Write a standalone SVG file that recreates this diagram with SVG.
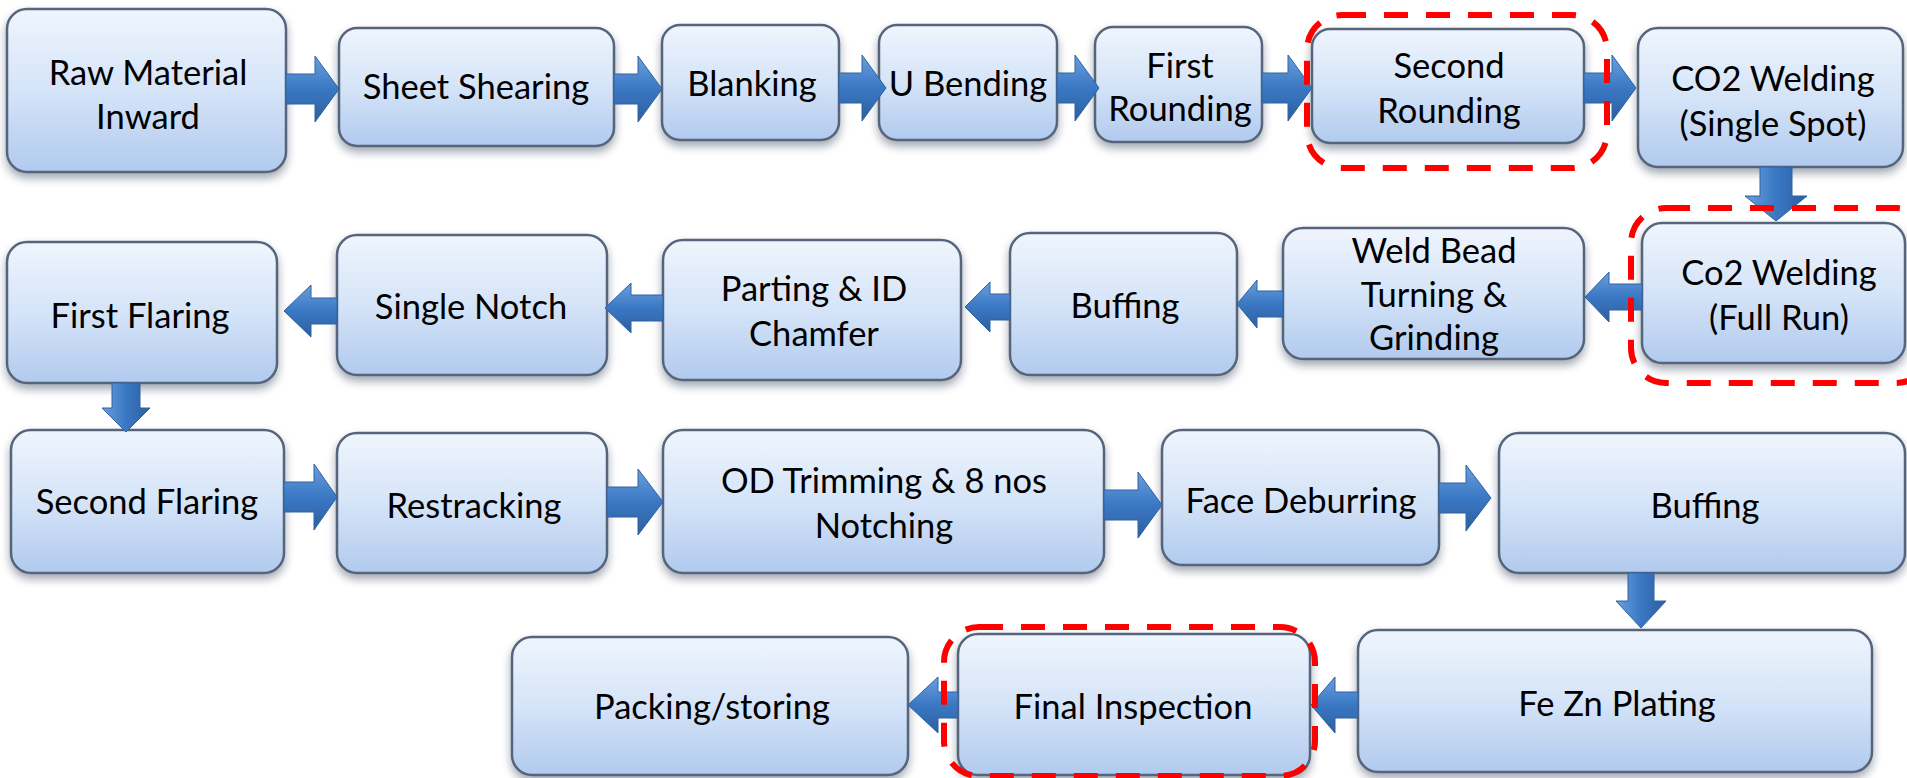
<svg xmlns="http://www.w3.org/2000/svg" width="1907" height="778" viewBox="0 0 1907 778">
<defs>
<linearGradient id="boxg" x1="0" y1="0" x2="0" y2="1">
<stop offset="0" stop-color="#eff5fd"/>
<stop offset="0.5" stop-color="#d5e4f8"/>
<stop offset="1" stop-color="#b1caee"/>
</linearGradient>
<linearGradient id="arrh" x1="0" y1="0" x2="0" y2="1">
<stop offset="0" stop-color="#6a9fdc"/>
<stop offset="0.5" stop-color="#3a78c4"/>
<stop offset="1" stop-color="#2c5f9e"/>
</linearGradient>
<linearGradient id="arrv" x1="0" y1="0" x2="1" y2="0">
<stop offset="0" stop-color="#6a9fdc"/>
<stop offset="0.5" stop-color="#3a78c4"/>
<stop offset="1" stop-color="#2c5f9e"/>
</linearGradient>
<filter id="sh" x="-10%" y="-10%" width="120%" height="130%">
<feDropShadow dx="0" dy="5" stdDeviation="4" flood-color="#1c2a40" flood-opacity="0.4"/>
</filter>
</defs>
<style>
.box{fill:url(#boxg);stroke:#56657c;stroke-width:2.5;filter:url(#sh)}
.t{font-family:Lato,"Open Sans","Liberation Sans",sans-serif;font-size:34.5px;fill:#000;text-anchor:middle}
.ah{fill:url(#arrh);stroke:#2e62a2;stroke-width:1}
.av{fill:url(#arrv);stroke:#2e62a2;stroke-width:1}
.hl{fill:none;stroke:#ff0000;stroke-width:6;stroke-dasharray:24 18}
</style>
<rect width="1907" height="778" fill="#ffffff"/>

<g id="node1"><rect class="box" x="7" y="9" width="279" height="163" rx="20"/><text class="t" x="148" y="85">Raw Material</text><text class="t" x="148" y="129">Inward</text></g>
<g id="node2"><rect class="box" x="339" y="28" width="275" height="118" rx="18"/><text class="t" x="476" y="99">Sheet Shearing</text></g>
<g id="node3"><rect class="box" x="662" y="25" width="177" height="115" rx="18"/><text class="t" x="752" y="96">Blanking</text></g>
<g id="node4"><rect class="box" x="879" y="25" width="178" height="115" rx="18"/><text class="t" x="968" y="96">U Bending</text></g>
<g id="node5"><rect class="box" x="1095" y="27" width="167" height="115" rx="18"/><text class="t" x="1180" y="78">First</text><text class="t" x="1180" y="121">Rounding</text></g>
<g id="node6"><rect class="box" x="1312" y="29" width="272" height="114" rx="18"/><text class="t" x="1449" y="78">Second</text><text class="t" x="1449" y="123">Rounding</text></g>
<g id="node7"><rect class="box" x="1638" y="28" width="265" height="139" rx="20"/><text class="t" x="1773" y="91">CO2 Welding</text><text class="t" x="1773" y="136">(Single Spot)</text></g>
<g id="node8"><rect class="box" x="1642" y="223" width="263" height="140" rx="20"/><text class="t" x="1779" y="285">Co2 Welding</text><text class="t" x="1779" y="330">(Full Run)</text></g>
<g id="node9"><rect class="box" x="1283" y="228" width="301" height="131" rx="20"/><text class="t" x="1434" y="263">Weld Bead</text><text class="t" x="1434" y="307">Turning &amp;</text><text class="t" x="1434" y="350">Grinding</text></g>
<g id="node10"><rect class="box" x="1010" y="233" width="227" height="142" rx="20"/><text class="t" x="1125" y="318">Buffing</text></g>
<g id="node11"><rect class="box" x="663" y="240" width="298" height="140" rx="20"/><text class="t" x="814" y="301">Parting &amp; ID</text><text class="t" x="814" y="346">Chamfer</text></g>
<g id="node12"><rect class="box" x="337" y="235" width="270" height="140" rx="20"/><text class="t" x="471" y="319">Single Notch</text></g>
<g id="node13"><rect class="box" x="7" y="242" width="270" height="141" rx="20"/><text class="t" x="140" y="328">First Flaring</text></g>
<g id="node14"><rect class="box" x="11" y="430" width="273" height="143" rx="20"/><text class="t" x="147" y="514">Second Flaring</text></g>
<g id="node15"><rect class="box" x="337" y="433" width="270" height="140" rx="20"/><text class="t" x="474" y="518">Restracking</text></g>
<g id="node16"><rect class="box" x="663" y="430" width="441" height="143" rx="20"/><text class="t" x="884" y="493">OD Trimming &amp; 8 nos</text><text class="t" x="884" y="538">Notching</text></g>
<g id="node17"><rect class="box" x="1162" y="430" width="277" height="135" rx="20"/><text class="t" x="1301" y="513">Face Deburring</text></g>
<g id="node18"><rect class="box" x="1499" y="433" width="406" height="140" rx="20"/><text class="t" x="1705" y="518">Buffing</text></g>
<g id="node19"><rect class="box" x="1358" y="630" width="514" height="142" rx="20"/><text class="t" x="1617" y="716">Fe Zn Plating</text></g>
<g id="node20"><rect class="box" x="958" y="634" width="352" height="141" rx="20"/><text class="t" x="1133" y="719">Final Inspection</text></g>
<g id="node21"><rect class="box" x="512" y="637" width="396" height="138" rx="20"/><text class="t" x="712" y="719">Packing/storing</text></g>

<g id="connectors">
<path class="ah" d="M286,74 L315,74 L315,56 L339,89 L315,122 L315,104 L286,104 Z"/>
<path class="ah" d="M614,74 L638,74 L638,56 L662,89 L638,122 L638,104 L614,104 Z"/>
<path class="ah" d="M839,73 L862,73 L862,55 L886,88 L862,121 L862,103 L839,103 Z"/>
<path class="ah" d="M1057,73 L1075,73 L1075,55 L1099,88 L1075,121 L1075,103 L1057,103 Z"/>
<path class="ah" d="M1262,73 L1288,73 L1288,55 L1312,88 L1288,121 L1288,103 L1262,103 Z"/>
<path class="ah" d="M1584,73 L1612,73 L1612,55 L1636,88 L1612,121 L1612,103 L1584,103 Z"/>
<path class="av" d="M1760,167 L1792,167 L1792,196 L1807,196 L1776,221 L1745,196 L1760,196 Z"/>
<path class="ah" d="M1642,284 L1609,284 L1609,272 L1585,297 L1609,322 L1609,310 L1642,310 Z"/>
<path class="ah" d="M1283,291 L1257,291 L1257,280 L1237,304 L1257,328 L1257,317 L1283,317 Z"/>
<path class="ah" d="M1010,294 L990,294 L990,282 L965,307 L990,332 L990,320 L1010,320 Z"/>
<path class="ah" d="M663,295 L631,295 L631,283 L605,308 L631,333 L631,321 L663,321 Z"/>
<path class="ah" d="M337,298 L311,298 L311,285 L284,311 L311,337 L311,324 L337,324 Z"/>
<path class="av" d="M112,383 L140,383 L140,408 L150,408 L126,432 L102,408 L112,408 Z"/>
<path class="ah" d="M284,482 L314,482 L314,464 L337,497 L314,530 L314,512 L284,512 Z"/>
<path class="ah" d="M607,487 L638,487 L638,469 L663,502 L638,535 L638,517 L607,517 Z"/>
<path class="ah" d="M1104,490 L1138,490 L1138,472 L1162,505 L1138,538 L1138,520 L1104,520 Z"/>
<path class="ah" d="M1439,483 L1466,483 L1466,465 L1491,498 L1466,531 L1466,513 L1439,513 Z"/>
<path class="av" d="M1628,573 L1654,573 L1654,601 L1666,601 L1641,628 L1616,601 L1628,601 Z"/>
<path class="ah" d="M1358,692 L1335,692 L1335,677 L1311,705 L1335,733 L1335,718 L1358,718 Z"/>
<path class="ah" d="M958,692 L938,692 L938,677 L908,705 L938,733 L938,718 L958,718 Z"/>
</g>

<g id="highlights">
<rect class="hl" x="1307" y="15" width="300" height="153" rx="35"/>
<rect class="hl" x="1631" y="208" width="300" height="175" rx="35"/>
<rect class="hl" x="944" y="627" width="371" height="149" rx="35"/>
</g>
</svg>
